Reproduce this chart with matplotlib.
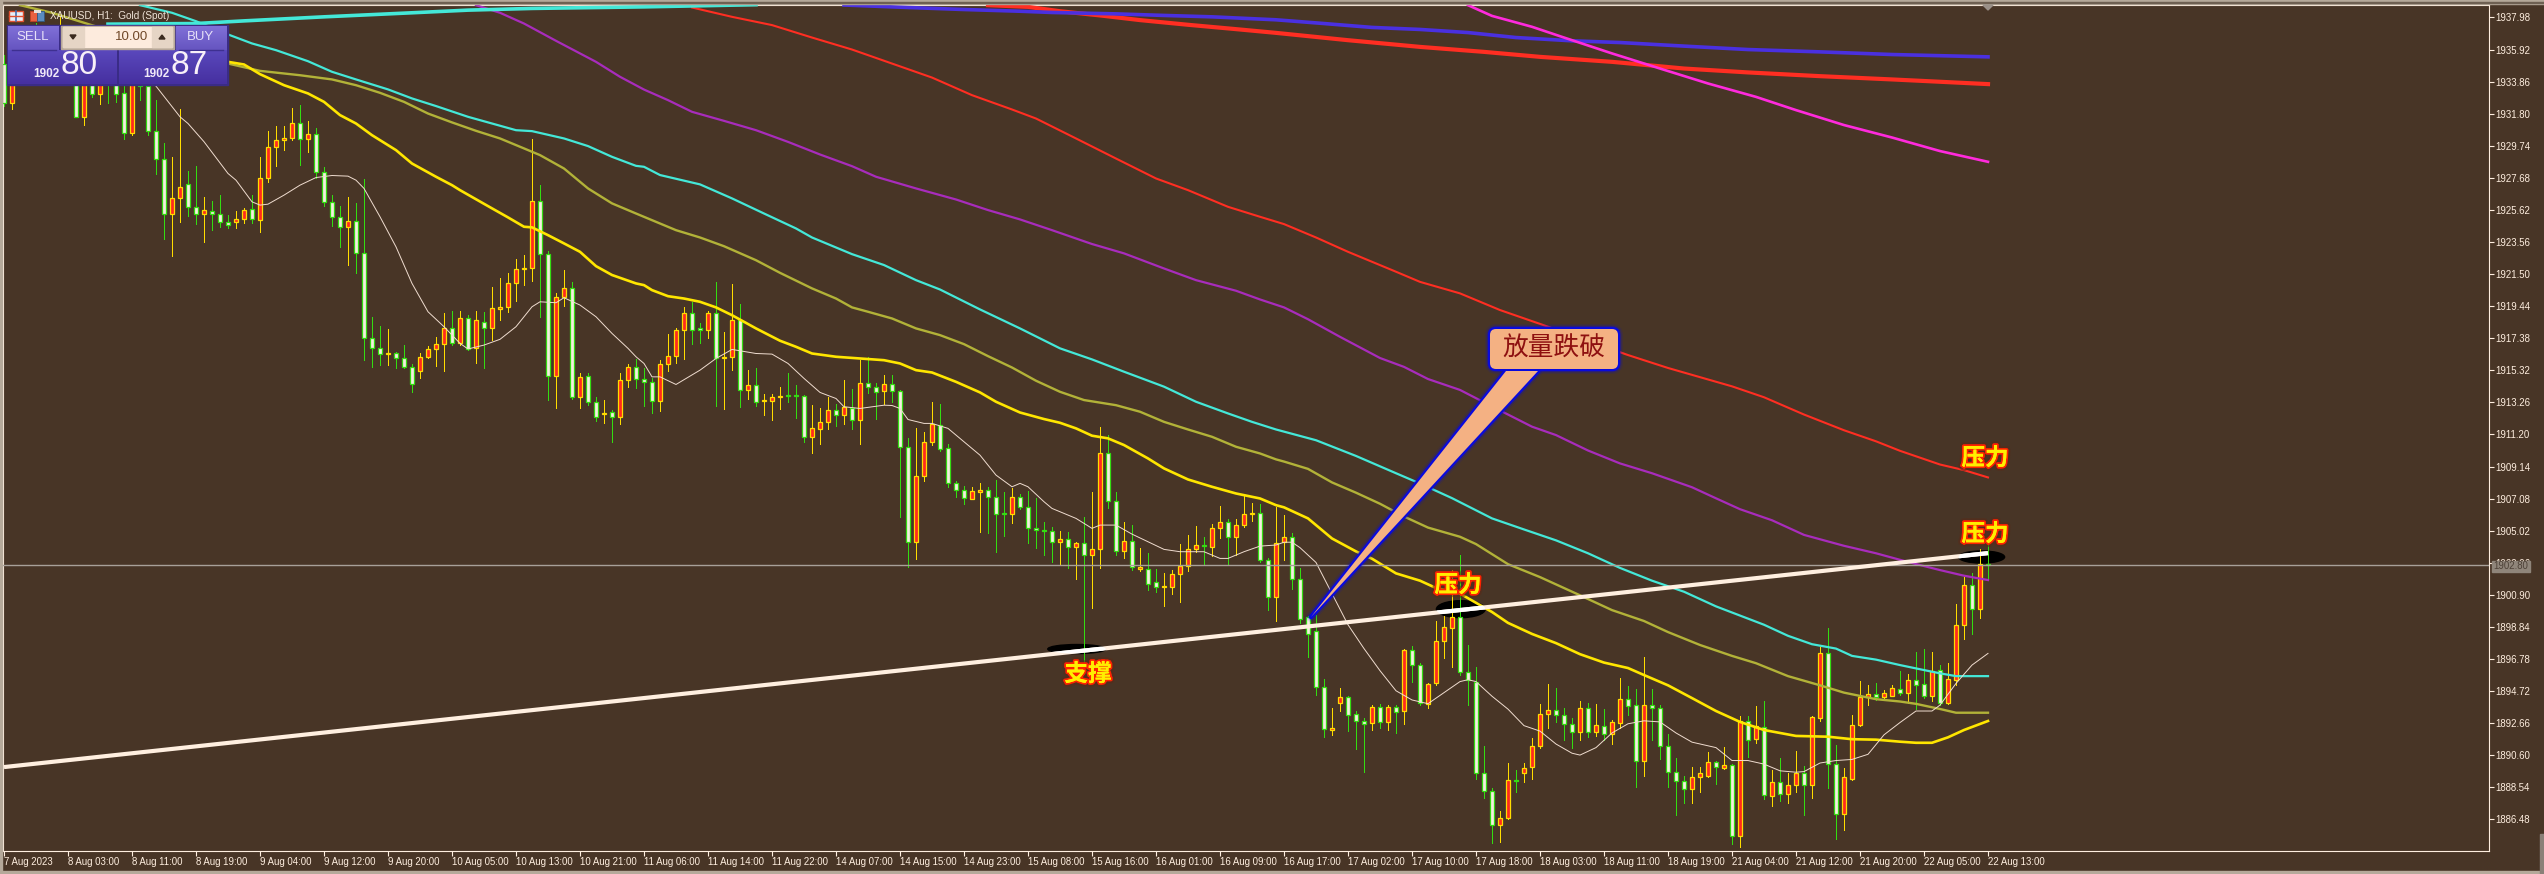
import numpy as np
import matplotlib
matplotlib.use('Agg')
import matplotlib.pyplot as plt
import matplotlib.patheffects as pe
from matplotlib.patches import Ellipse, FancyBboxPatch, Polygon, Rectangle

# XAUUSD H1 candles (first bars sit under the trade panel)
opens = [
    1935.0, 1932.5, 1934.4, 1935.6, 1936.2, 1935.0, 1935.8, 1934.8, 1936.5, 1935.5,
    1931.6, 1934.3, 1933.06, 1934.4, 1934.0, 1933.1, 1930.53, 1934.2, 1933.6, 1930.7,
    1928.86, 1925.39, 1926.36, 1927.26, 1925.82, 1925.39, 1925.57, 1925.33, 1924.82, 1924.86,
    1925.01, 1925.65, 1924.99, 1927.64, 1929.63, 1930.08, 1930.27, 1931.17, 1930.15, 1930.51,
    1928.03, 1926.16, 1925.18, 1924.5, 1924.88, 1922.83, 1917.37, 1916.73, 1916.34, 1916.41,
    1916.13, 1915.51, 1915.29, 1916.19, 1916.66, 1916.98, 1918.01, 1917.05, 1918.7, 1916.73,
    1918.44, 1918.01, 1919.27, 1919.36, 1920.9, 1921.8, 1921.86, 1926.21, 1922.76, 1914.97,
    1920.0, 1920.58, 1913.63, 1914.97, 1913.3, 1912.49, 1912.62, 1912.34, 1914.69, 1915.51,
    1914.73, 1914.58, 1913.36, 1915.7, 1916.27, 1917.88, 1918.97, 1918.03, 1917.94, 1919.01,
    1916.08, 1916.15, 1918.58, 1914.03, 1914.35, 1913.32, 1913.36, 1913.58, 1913.75, 1913.71,
    1913.64, 1911.05, 1911.57, 1911.97, 1912.74, 1912.42, 1912.91, 1912.1, 1914.48, 1914.26,
    1914.0, 1914.41, 1913.96, 1910.37, 1904.27, 1908.51, 1910.69, 1911.82, 1910.3, 1908.06,
    1907.61, 1907.07, 1907.52, 1907.61, 1907.16, 1906.13, 1906.07, 1907.16, 1906.56, 1905.17,
    1905.06, 1904.97, 1904.27, 1904.46, 1903.95, 1904.25, 1903.43, 1903.82, 1909.98, 1906.9,
    1903.69, 1904.38, 1902.58, 1902.58, 1901.74, 1901.42, 1901.42, 1902.21, 1902.77, 1903.82,
    1904.08, 1903.99, 1905.17, 1905.55, 1904.59, 1905.4, 1906.07, 1906.13, 1903.13, 1900.78,
    1904.28, 1904.61, 1901.92, 1899.45, 1898.58, 1894.97, 1892.19, 1893.98, 1894.31, 1893.25,
    1892.83, 1892.67, 1893.68, 1892.74, 1893.68, 1893.44, 1897.33, 1896.39, 1893.91, 1895.21,
    1897.92, 1898.74, 1899.45, 1895.92, 1895.33, 1889.44, 1888.33, 1886.14, 1886.54, 1889.04,
    1889.44, 1889.86, 1891.21, 1893.28, 1893.49, 1893.16, 1892.62, 1892.12, 1893.61, 1892.08,
    1892.5, 1891.98, 1892.69, 1894.2, 1893.8, 1890.21, 1893.8, 1893.61, 1891.21, 1889.51,
    1888.92, 1888.45, 1889.2, 1889.25, 1890.19, 1889.79, 1889.96, 1885.43, 1892.81, 1891.63,
    1892.43, 1887.95, 1888.85, 1888.14, 1888.66, 1889.48, 1888.66, 1892.97, 1897.14, 1890.03,
    1886.85, 1889.08, 1892.57, 1894.31, 1894.55, 1894.31, 1894.43, 1894.86, 1894.62, 1895.45,
    1895.15, 1894.42, 1896.07, 1893.97, 1895.43, 1898.94, 1901.51, 1900.01, 1902.85,
]
highs = [
    1935.6, 1935.0, 1936.2, 1936.4, 1937.6, 1936.2, 1936.3, 1938.0, 1936.9, 1935.9,
    1934.8, 1935.0, 1935.0, 1935.0, 1934.5, 1933.6, 1935.0, 1934.7, 1934.3, 1932.67,
    1929.93, 1928.99, 1932.07, 1928.09, 1928.43, 1926.42, 1926.19, 1926.61, 1925.29, 1925.54,
    1925.72, 1926.57, 1929.03, 1930.68, 1931.0, 1931.04, 1932.18, 1932.35, 1931.32, 1930.85,
    1928.35, 1926.57, 1925.89, 1926.42, 1926.04, 1927.58, 1918.72, 1918.16, 1917.97, 1916.51,
    1916.94, 1915.72, 1916.41, 1916.88, 1917.48, 1918.97, 1919.12, 1919.12, 1918.87, 1919.12,
    1919.04, 1920.64, 1921.22, 1921.58, 1922.44, 1922.72, 1930.15, 1927.19, 1922.98, 1920.3,
    1921.76, 1921.01, 1915.12, 1915.12, 1913.63, 1913.41, 1912.77, 1915.16, 1915.72, 1916.02,
    1915.44, 1914.8, 1915.97, 1917.64, 1918.01, 1919.36, 1919.72, 1918.39, 1919.12, 1921.0,
    1917.79, 1920.85, 1919.57, 1915.33, 1915.5, 1913.83, 1913.83, 1914.26, 1915.12, 1914.37,
    1913.75, 1913.08, 1912.91, 1913.6, 1913.15, 1914.69, 1914.11, 1915.97, 1916.19, 1914.48,
    1915.01, 1915.01, 1914.05, 1910.95, 1911.59, 1911.33, 1913.26, 1913.15, 1910.56, 1908.23,
    1907.88, 1907.8, 1908.06, 1907.8, 1908.27, 1907.52, 1907.73, 1907.37, 1907.56, 1907.09,
    1905.55, 1905.27, 1905.0, 1904.91, 1904.31, 1905.87, 1907.52, 1911.69, 1911.16, 1907.52,
    1905.55, 1905.38, 1903.88, 1903.56, 1902.53, 1902.28, 1902.49, 1904.16, 1904.74, 1905.32,
    1904.59, 1905.45, 1906.6, 1905.74, 1905.74, 1907.24, 1906.82, 1906.73, 1903.24, 1906.56,
    1906.0, 1904.85, 1902.63, 1899.57, 1899.62, 1895.49, 1893.61, 1894.9, 1894.39, 1893.44,
    1892.97, 1893.8, 1893.91, 1893.84, 1893.8, 1897.45, 1897.64, 1896.51, 1895.26, 1899.21,
    1899.57, 1902.51, 1903.46, 1897.68, 1896.27, 1891.21, 1888.5, 1887.01, 1890.07, 1889.67,
    1890.1, 1891.68, 1893.91, 1895.16, 1894.93, 1893.63, 1892.97, 1894.1, 1893.96, 1893.91,
    1893.56, 1892.85, 1895.56, 1895.04, 1894.86, 1896.93, 1894.86, 1893.8, 1891.96, 1890.43,
    1889.27, 1889.86, 1889.84, 1890.8, 1890.26, 1891.13, 1890.03, 1893.09, 1893.09, 1893.75,
    1894.08, 1889.67, 1890.43, 1889.44, 1890.85, 1889.91, 1893.09, 1897.57, 1898.79, 1891.25,
    1889.79, 1893.21, 1895.37, 1895.09, 1895.21, 1894.81, 1895.14, 1895.99, 1895.8, 1897.26,
    1897.42, 1897.25, 1896.39, 1896.54, 1900.31, 1902.02, 1902.28, 1903.82, 1904.52,
]
lows = [
    1932.3, 1932.11, 1934.1, 1934.2, 1934.6, 1934.7, 1934.5, 1934.5, 1935.2, 1931.56,
    1931.07, 1932.88, 1932.41, 1932.5, 1932.56, 1930.19, 1930.4, 1932.67, 1930.4, 1927.92,
    1923.77, 1922.66, 1924.86, 1925.22, 1924.71, 1923.57, 1924.32, 1924.54, 1924.45, 1924.45,
    1924.75, 1924.75, 1924.22, 1927.43, 1928.45, 1929.46, 1930.08, 1928.5, 1929.35, 1927.64,
    1925.89, 1924.6, 1923.25, 1922.08, 1921.54, 1915.98, 1915.55, 1915.66, 1915.66, 1915.44,
    1915.44, 1913.95, 1914.8, 1916.09, 1915.59, 1915.29, 1916.94, 1916.94, 1916.62, 1915.76,
    1915.49, 1917.26, 1918.55, 1919.08, 1919.79, 1920.79, 1921.05, 1918.76, 1913.41, 1912.87,
    1919.45, 1913.45, 1912.87, 1913.09, 1912.06, 1911.95, 1910.7, 1911.87, 1914.27, 1914.16,
    1913.04, 1912.59, 1912.7, 1915.29, 1915.8, 1916.04, 1917.02, 1917.09, 1917.41, 1913.04,
    1912.83, 1915.33, 1912.98, 1913.47, 1913.04, 1912.44, 1912.12, 1912.83, 1913.3, 1912.27,
    1910.69, 1910.02, 1910.58, 1911.54, 1911.76, 1911.87, 1911.52, 1910.58, 1913.88, 1912.19,
    1913.15, 1913.28, 1905.92, 1902.66, 1903.2, 1908.23, 1910.52, 1910.15, 1907.8, 1907.2,
    1906.73, 1907.03, 1904.95, 1904.89, 1903.67, 1904.67, 1905.53, 1906.43, 1904.2, 1903.93,
    1903.46, 1903.03, 1902.88, 1902.64, 1901.91, 1896.39, 1900.07, 1902.64, 1906.45, 1903.46,
    1903.24, 1902.49, 1902.45, 1901.21, 1901.1, 1900.18, 1900.95, 1900.46, 1902.45, 1903.67,
    1902.81, 1903.39, 1904.52, 1902.81, 1903.46, 1905.27, 1905.64, 1903.03, 1899.92, 1899.24,
    1903.15, 1901.29, 1899.1, 1896.91, 1894.5, 1891.79, 1891.91, 1893.44, 1892.15, 1890.97,
    1889.55, 1892.19, 1892.34, 1892.19, 1892.03, 1892.62, 1895.33, 1893.8, 1893.63, 1895.09,
    1896.86, 1896.27, 1895.75, 1893.8, 1889.08, 1887.84, 1884.96, 1885.01, 1886.49, 1888.26,
    1888.85, 1889.08, 1891.09, 1892.38, 1892.74, 1891.56, 1891.09, 1891.6, 1891.79, 1891.86,
    1891.56, 1891.32, 1892.38, 1893.21, 1888.54, 1889.27, 1891.56, 1890.38, 1888.57, 1886.73,
    1887.55, 1887.55, 1888.26, 1889.2, 1888.78, 1889.74, 1884.91, 1884.72, 1890.5, 1891.39,
    1887.79, 1887.32, 1887.67, 1887.55, 1888.26, 1886.73, 1887.86, 1892.78, 1888.5, 1885.24,
    1885.79, 1889.04, 1892.5, 1893.84, 1894.15, 1894.2, 1894.39, 1894.5, 1893.96, 1893.56,
    1894.29, 1894.08, 1893.82, 1893.89, 1895.11, 1898.06, 1898.38, 1899.43, 1901.89,
]
closes = [
    1932.5, 1934.4, 1935.6, 1934.5, 1935.0, 1935.8, 1934.8, 1936.5, 1935.5, 1931.6,
    1934.3, 1933.06, 1934.4, 1934.0, 1933.06, 1930.53, 1934.2, 1933.6, 1930.7, 1928.86,
    1925.39, 1926.36, 1927.11, 1925.82, 1925.33, 1925.59, 1925.33, 1924.82, 1924.67, 1925.01,
    1925.59, 1925.05, 1927.64, 1929.63, 1930.08, 1930.27, 1931.17, 1930.15, 1930.51, 1928.03,
    1926.16, 1925.18, 1924.5, 1924.88, 1922.83, 1917.37, 1916.73, 1916.34, 1916.41, 1916.13,
    1915.55, 1914.42, 1916.19, 1916.66, 1916.98, 1918.01, 1917.05, 1918.65, 1916.7, 1918.55,
    1918.01, 1919.29, 1919.38, 1920.9, 1921.8, 1921.86, 1926.21, 1922.76, 1914.97, 1920.0,
    1920.58, 1913.63, 1914.91, 1913.3, 1912.34, 1912.55, 1912.34, 1914.69, 1915.51, 1914.74,
    1914.58, 1913.36, 1915.7, 1916.27, 1917.88, 1918.97, 1917.94, 1917.94, 1919.01, 1916.08,
    1916.17, 1918.58, 1914.03, 1914.35, 1913.26, 1913.41, 1913.62, 1913.66, 1913.64, 1913.64,
    1911.05, 1911.59, 1911.97, 1912.74, 1912.42, 1912.94, 1912.1, 1914.48, 1914.26, 1913.94,
    1914.41, 1913.96, 1910.37, 1904.27, 1908.51, 1910.69, 1911.87, 1910.28, 1908.06, 1907.61,
    1907.09, 1907.54, 1907.61, 1907.16, 1906.11, 1906.07, 1907.16, 1906.56, 1905.17, 1905.04,
    1904.97, 1904.27, 1904.46, 1903.95, 1904.2, 1903.43, 1903.82, 1909.98, 1906.9, 1903.69,
    1904.38, 1902.66, 1902.66, 1901.57, 1901.42, 1901.46, 1902.21, 1902.73, 1903.82, 1904.08,
    1904.01, 1905.17, 1905.55, 1904.59, 1905.4, 1906.07, 1906.13, 1903.13, 1900.78, 1904.25,
    1904.63, 1901.92, 1899.38, 1898.39, 1894.97, 1892.26, 1892.38, 1894.31, 1893.21, 1892.78,
    1892.62, 1893.68, 1892.74, 1893.68, 1893.4, 1897.33, 1896.39, 1893.98, 1895.16, 1897.92,
    1898.81, 1899.45, 1895.96, 1895.4, 1889.44, 1888.33, 1886.14, 1886.54, 1889.04, 1888.94,
    1889.79, 1891.21, 1893.28, 1893.51, 1893.16, 1892.62, 1892.12, 1893.61, 1892.08, 1892.57,
    1891.98, 1892.74, 1894.2, 1893.75, 1890.21, 1893.8, 1893.61, 1891.21, 1889.51, 1888.92,
    1888.45, 1889.2, 1889.48, 1890.19, 1889.84, 1889.96, 1885.43, 1892.78, 1891.56, 1892.5,
    1888.02, 1888.85, 1888.14, 1888.66, 1889.44, 1888.68, 1893.04, 1897.14, 1890.03, 1886.85,
    1889.2, 1892.57, 1894.31, 1894.55, 1894.31, 1894.62, 1894.9, 1894.62, 1895.45, 1895.09,
    1894.42, 1896.03, 1893.97, 1895.47, 1898.94, 1901.51, 1900.01, 1902.85, 1902.8,
]

# moving averages as (bar number, price)
ma_thin = [
    (14, 1936.0), (19, 1933.57), (22, 1931.6), (23, 1931.17), (25, 1930.0), (28, 1927.96), (29, 1927.53),
    (31, 1926.14), (32, 1925.93), (33, 1925.99), (35, 1926.57), (37, 1927.21), (39, 1927.7), (41, 1927.83),
    (43, 1927.79), (44, 1927.53), (45, 1927.0), (47, 1925.18), (49, 1923.25), (51, 1920.9), (53, 1919.08),
    (55, 1918.12), (57, 1917.05), (58, 1916.69), (60, 1916.94), (62, 1917.31), (64, 1918.12), (66, 1919.4),
    (67, 1919.72), (69, 1919.66), (70, 1919.98), (72, 1919.51), (74, 1918.76), (76, 1917.69), (78, 1916.73),
    (79, 1916.19), (80, 1915.76), (81, 1914.9), (82, 1914.9), (84, 1914.41), (87, 1915.33), (89, 1916.08),
    (91, 1916.66), (94, 1916.4), (96, 1916.36), (98, 1915.76), (100, 1914.8), (102, 1913.9), (104, 1913.51),
    (105, 1912.98), (107, 1912.87), (110, 1913.08), (111, 1913.06), (112, 1912.87), (113, 1912.16),
    (115, 1911.91), (116, 1911.91), (118, 1911.59), (120, 1910.73), (122, 1909.87), (124, 1908.59),
    (126, 1907.84), (127, 1908.06), (128, 1907.84), (130, 1906.88), (131, 1906.45), (134, 1905.81),
    (136, 1905.17), (137, 1905.38), (139, 1905.38), (141, 1904.8), (143, 1904.31), (145, 1903.82),
    (147, 1903.67), (150, 1903.67), (152, 1903.24), (153, 1903.24), (155, 1903.67), (157, 1904.03),
    (159, 1904.1), (160, 1904.28), (161, 1904.28), (162, 1903.93), (164, 1902.98), (166, 1900.98),
    (168, 1898.98), (170, 1897.45), (172, 1896.03), (174, 1894.74), (176, 1894.15), (178, 1893.91),
    (180, 1894.62), (182, 1895.33), (183, 1895.45), (184, 1895.33), (186, 1894.39), (188, 1893.56),
    (190, 1892.5), (192, 1892.15), (194, 1891.32), (196, 1890.73), (197, 1890.61), (199, 1891.09),
    (201, 1892.03), (203, 1892.62), (205, 1892.81), (207, 1892.74), (209, 1892.03), (211, 1891.44),
    (214, 1891.09), (216, 1890.26), (218, 1890.26), (220, 1890.03), (222, 1889.6), (224, 1889.51),
    (225, 1889.55), (227, 1890.1), (229, 1890.26), (231, 1890.33), (233, 1890.66), (235, 1891.91),
    (237, 1892.7), (239, 1893.44), (241, 1893.44), (242, 1893.82), (244, 1895.21), (246, 1896.39), (248, 1897.14),
]
ma_yellow = [
    (20, 1936.3), (28, 1935.13), (30, 1934.96), (32, 1934.34), (35, 1933.63), (38, 1933.1), (40, 1932.56),
    (42, 1931.71), (44, 1931.17), (46, 1930.42), (49, 1929.46), (51, 1928.6), (54, 1927.75), (56, 1927.21),
    (57, 1926.89), (61, 1925.72), (63, 1925.14), (65, 1924.54), (66, 1924.5), (68, 1924.0), (70, 1923.47),
    (72, 1922.93), (74, 1922.01), (76, 1921.44), (79, 1920.9), (80, 1920.79), (81, 1920.47), (83, 1920.08),
    (85, 1919.93), (87, 1919.72), (89, 1919.36), (91, 1918.86), (94, 1918.01), (97, 1917.22), (99, 1916.83),
    (101, 1916.4), (104, 1916.19), (107, 1916.08), (110, 1915.97), (112, 1915.76), (114, 1915.33),
    (116, 1915.18), (119, 1914.58), (122, 1913.9), (124, 1913.3), (127, 1912.61), (130, 1912.19),
    (132, 1911.95), (134, 1911.59), (136, 1911.12), (138, 1910.95), (140, 1910.52), (143, 1909.66),
    (145, 1909.02), (148, 1908.31), (151, 1907.84), (154, 1907.41), (157, 1907.09), (159, 1906.66),
    (160, 1906.52), (163, 1905.81), (166, 1904.52), (169, 1903.69), (171, 1903.22), (174, 1902.28),
    (177, 1901.81), (179, 1901.34), (182, 1900.98), (184, 1900.39), (186, 1899.8), (188, 1899.1),
    (191, 1898.39), (194, 1897.8), (197, 1897.09), (200, 1896.55), (203, 1896.2), (205, 1895.75),
    (208, 1895.09), (211, 1894.27), (214, 1893.44), (217, 1892.74), (220, 1892.22), (224, 1891.84),
    (228, 1891.79), (231, 1891.63), (234, 1891.6), (237, 1891.47), (239, 1891.4), (241, 1891.4),
    (243, 1891.75), (245, 1892.22), (248, 1892.8),
]
ma_olive = [
    (2, 1938.77), (6, 1938.28), (11, 1937.48), (28, 1935.02), (32, 1934.55), (37, 1934.27), (41, 1934.0),
    (44, 1933.63), (47, 1933.14), (50, 1932.56), (53, 1931.81), (56, 1931.24), (59, 1930.7), (62, 1930.21),
    (65, 1929.57), (67, 1929.14), (70, 1928.28), (73, 1927.0), (76, 1926.04), (79, 1925.39), (84, 1924.32),
    (87, 1923.85), (90, 1923.29), (94, 1922.39), (97, 1921.58), (101, 1920.58), (104, 1919.93), (106, 1919.36),
    (108, 1919.08), (111, 1918.65), (114, 1918.01), (117, 1917.58), (120, 1917.0), (123, 1916.23),
    (126, 1915.5), (129, 1914.65), (132, 1913.94), (135, 1913.41), (139, 1913.08), (142, 1912.66),
    (145, 1912.01), (148, 1911.52), (151, 1911.05), (154, 1910.41), (157, 1909.98), (159, 1909.6),
    (160, 1909.46), (163, 1908.99), (166, 1908.12), (169, 1907.46), (172, 1906.75), (175, 1905.93),
    (178, 1905.22), (182, 1904.63), (184, 1904.16), (188, 1902.87), (192, 1902.04), (197, 1900.87),
    (201, 1899.92), (205, 1899.22), (208, 1898.51), (212, 1897.68), (216, 1896.98), (219, 1896.51),
    (223, 1895.68), (227, 1895.09), (230, 1894.62), (234, 1894.2), (237, 1894.05), (239, 1893.9),
    (242, 1893.57), (244, 1893.33), (248, 1893.33),
]
ma_cyan = [
    (17, 1938.77), (21, 1938.28), (24, 1937.74), (28, 1936.89), (31, 1936.31), (34, 1935.88), (38, 1935.17),
    (41, 1934.49), (44, 1934.0), (48, 1933.36), (51, 1932.78), (54, 1932.29), (58, 1931.6), (61, 1931.17),
    (64, 1930.74), (66, 1930.68), (70, 1930.21), (73, 1929.72), (76, 1929.03), (79, 1928.45), (80, 1928.39),
    (82, 1927.86), (87, 1927.26), (91, 1926.36), (95, 1925.39), (99, 1924.43), (101, 1923.85), (106, 1922.78),
    (110, 1922.08), (114, 1921.11), (117, 1920.51), (122, 1919.23), (127, 1918.01), (132, 1916.73),
    (136, 1916.02), (140, 1915.23), (145, 1914.27), (149, 1913.3), (153, 1912.55), (156, 1912.01),
    (159, 1911.52), (164, 1910.83), (169, 1909.82), (174, 1908.71), (177, 1908.05), (181, 1907.11),
    (186, 1905.81), (190, 1905.1), (194, 1904.4), (198, 1903.57), (202, 1902.63), (206, 1901.81),
    (210, 1901.1), (214, 1900.16), (220, 1898.98), (223, 1898.27), (226, 1897.73), (229, 1897.45),
    (231, 1896.98), (234, 1896.74), (237, 1896.39), (240, 1896.07), (242, 1895.86), (244, 1895.68), (248, 1895.68),
]
ma_cyan_wide = [
    (13, 1937.55), (24, 1937.59), (30, 1937.76), (40, 1938.02), (51, 1938.28), (58, 1938.45), (66, 1938.56),
    (80, 1938.66), (94, 1938.8),
]
ma_purple = [
    (59, 1938.77), (62, 1938.28), (65, 1937.59), (69, 1936.48), (74, 1935.13), (77, 1934.17), (80, 1933.35),
    (83, 1932.67), (86, 1931.92), (90, 1931.34), (94, 1930.74), (98, 1929.99), (102, 1929.18), (106, 1928.43),
    (109, 1927.75), (114, 1927.0), (119, 1926.29), (123, 1925.61), (127, 1925.01), (131, 1924.32),
    (136, 1923.43), (140, 1922.83), (145, 1921.86), (149, 1921.11), (154, 1920.43), (157, 1919.87),
    (160, 1919.36), (163, 1918.6), (167, 1917.47), (172, 1916.11), (175, 1915.54), (178, 1914.76),
    (182, 1914.06), (186, 1913.0), (191, 1911.7), (194, 1911.16), (198, 1910.17), (202, 1909.34),
    (206, 1908.71), (211, 1907.81), (214, 1907.1), (217, 1906.4), (221, 1905.69), (225, 1904.75),
    (230, 1904.05), (234, 1903.57), (237, 1903.15), (239, 1902.88), (242, 1902.49), (245, 1902.13), (248, 1901.85),
]
ma_red = [
    (86, 1938.62), (91, 1938.02), (96, 1937.49), (101, 1936.69), (106, 1935.92), (111, 1935.02), (116, 1934.12),
    (121, 1932.99), (126, 1932.07), (129, 1931.49), (134, 1930.21), (139, 1928.92), (144, 1927.64),
    (148, 1926.89), (153, 1925.82), (157, 1925.18), (160, 1924.71), (164, 1923.85), (168, 1922.93),
    (174, 1921.65), (177, 1921.0), (182, 1920.26), (187, 1919.19), (192, 1918.3), (203, 1916.3),
    (208, 1915.47), (212, 1914.88), (216, 1914.29), (220, 1913.59), (225, 1912.48), (230, 1911.47),
    (234, 1910.76), (237, 1910.15), (242, 1909.27), (245, 1908.91), (248, 1908.44),
]
ma_red_wide = [
    (123, 1938.77), (128, 1938.66), (132, 1938.38), (137, 1938.11), (142, 1937.81), (148, 1937.51), (154, 1937.23),
    (159, 1936.99), (168, 1936.52), (177, 1936.09), (185, 1935.77), (192, 1935.45), (201, 1935.13),
    (210, 1934.7), (218, 1934.45), (227, 1934.21), (236, 1934.0), (248, 1933.7),
]
ma_blue = [
    (105, 1938.78), (113, 1938.62), (120, 1938.49), (127, 1938.38), (131, 1938.3), (139, 1938.21), (145, 1938.11),
    (151, 1938.02), (159, 1937.83), (165, 1937.59), (171, 1937.34), (177, 1937.21), (183, 1937.01),
    (189, 1936.69), (196, 1936.48), (202, 1936.37), (210, 1936.14), (218, 1935.92), (227, 1935.77),
    (236, 1935.6), (248, 1935.45),
]
ma_magenta = [
    (183, 1938.77), (186, 1938.08), (191, 1937.38), (195, 1936.69), (201, 1935.67), (207, 1934.7), (213, 1933.74),
    (219, 1932.88), (224, 1932.03), (230, 1931.07), (236, 1930.27), (242, 1929.4), (248, 1928.71),
]
trend_line = [(0, 1889.84), (248, 1903.58)]
current_price = 1902.80

y_ticks = [1937.98 - 2.06 * k for k in range(26)]
x_labels = [
    '7 Aug 2023', '8 Aug 03:00', '8 Aug 11:00', '8 Aug 19:00', '9 Aug 04:00', '9 Aug 12:00', '9 Aug 20:00',
    '10 Aug 05:00', '10 Aug 13:00', '10 Aug 21:00', '11 Aug 06:00', '11 Aug 14:00', '11 Aug 22:00',
    '14 Aug 07:00', '14 Aug 15:00', '14 Aug 23:00', '15 Aug 08:00', '15 Aug 16:00', '16 Aug 01:00',
    '16 Aug 09:00', '16 Aug 17:00', '17 Aug 02:00', '17 Aug 10:00', '17 Aug 18:00', '18 Aug 03:00',
    '18 Aug 11:00', '18 Aug 19:00', '21 Aug 04:00', '21 Aug 12:00', '21 Aug 20:00', '22 Aug 05:00', '22 Aug 13:00',
]

BG = '#483526'
FG = '#FFEFE0'
W, H = 2544, 874
CJK = ['Noto Sans CJK SC', 'DejaVu Sans']
plt.rcParams['font.family'] = ['Liberation Sans', 'DejaVu Sans']

fig = plt.figure(figsize=(W / 100, H / 100), dpi=100, facecolor=BG)
ax = fig.add_axes([3 / W, 1 - 851 / H, (2489 - 3) / W, (851 - 5) / H], facecolor=BG)
ax.set_xlim(-0.125, 310.625)
ax.set_ylim(1884.45, 1938.78)

o = np.array(opens)
h = np.array(highs)
l = np.array(lows)
c = np.array(closes)
n = np.arange(len(o))
up = c >= o
up[-1] = False

ax.vlines(n[up], l[up], h[up], color='#FFDD00', lw=0.72, zorder=3, antialiased=False)
ax.vlines(n[~up], l[~up], h[~up], color='#33DD11', lw=0.72, zorder=3, antialiased=False)
ax.bar(n[up], (c - o)[up], bottom=o[up], width=0.5, color='#FF2A1E', edgecolor='#FFDD00', lw=0.9, zorder=3)
ax.bar(n[~up], (c - o)[~up], bottom=o[~up], width=0.5, color='#F5EFE0', edgecolor='#33DD11', lw=0.9, zorder=3)


def draw_ma(points, color, lw):
    xs, ys = zip(*points)
    ax.plot(xs, ys, color=color, lw=lw, zorder=4, solid_joinstyle='round')


draw_ma(ma_red_wide, '#FF2E22', 3.0)
draw_ma(ma_blue, '#4A30E0', 2.6)
draw_ma(ma_magenta, '#FF2ADD', 1.9)
draw_ma(ma_red, '#FF2E22', 1.5)
draw_ma(ma_purple, '#A82CBC', 1.6)
draw_ma(ma_cyan_wide, '#44E8D8', 2.6)
draw_ma(ma_cyan, '#44E8D8', 1.6)
draw_ma(ma_olive, '#B2B238', 1.7)
draw_ma(ma_yellow, '#FFE600', 1.9)
draw_ma(ma_thin, '#F0DDD0', 0.7)

ax.axhline(current_price, color='#A8A098', lw=1.0, zorder=4)

# black marks on the trend line, the line turns pure white inside them
marks = [(134.1, 1897.42, 7.25, 0.58), (182.1, 1899.98, 6.1, 1.09), (247.2, 1903.33, 5.75, 0.78)]
tx, ty = zip(*trend_line)
ax.plot(tx, ty, color=FG, lw=3.0, zorder=5, solid_capstyle='butt')
for mx, my, mw, mh in marks:
    el = Ellipse((mx, my), mw, mh, color='black', zorder=2.5)
    ax.add_patch(el)
    el2 = Ellipse((mx, my), mw, mh, facecolor='none', edgecolor='none', zorder=6)
    ax.add_patch(el2)
    line, = ax.plot(tx, ty, color='white', lw=3.0, zorder=6, solid_capstyle='butt')
    line.set_clip_path(el2)

for side in ax.spines.values():
    side.set_color(FG)
    side.set_linewidth(0.8)
ax.yaxis.tick_right()
ax.set_yticks(y_ticks)
ax.set_yticklabels([f'{v:.2f}' for v in y_ticks], fontsize=6.9, color=FG)
ax.set_xticks(n[::8])
ax.set_xticklabels(x_labels, fontsize=6.9, color=FG, ha='left')
ax.tick_params(axis='y', length=3.6, width=0.8, color=FG, pad=1)
ax.tick_params(axis='x', length=3.6, width=0.8, color=FG, pad=1)

# overlay in image pixels for the window frame, trade panel, callout and labels
ov = fig.add_axes([0, 0, 1, 1], facecolor='none', zorder=10)
ov.axis('off')


def grad(x0, y0, x1, y1, top, bottom):
    t = matplotlib.colors.to_rgb(top)
    b = matplotlib.colors.to_rgb(bottom)
    img = np.linspace(t, b, 32).reshape(32, 1, 3)
    ov.imshow(img, extent=(x0, x1, y1, y0), aspect='auto', zorder=11, interpolation='bilinear')


ov.add_patch(Rectangle((0, 0), W, 4, color='#B5A99A', zorder=10))
ov.add_patch(Rectangle((0, 1.5), W, 1.5, color='#6E6052', zorder=10))
ov.add_patch(Rectangle((0, 0), 2, H, color='#B5A99A', zorder=10))
ov.add_patch(Rectangle((0, 871), W, 3, color='#B5A99A', zorder=10))
ov.add_patch(Rectangle((2540, 834), 4, 40, color='#8A8078', zorder=10))
ov.fill([1983, 1993, 1988], [5, 5, 10], color='#9A9088', zorder=10)

# price tag on the axis
ov.add_patch(Rectangle((2492, 561), 38, 10.5, color='#8F857A', zorder=10))
ov.text(2511, 566, f'{current_price:.2f}', color='#4E4238', fontsize=6.9, ha='center', va='center', zorder=11)

# symbol header
ov.add_patch(Rectangle((9, 11), 14, 10, facecolor='#E8F0F8', edgecolor='#E05030', lw=1, zorder=11))
ov.plot([16, 16], [11, 21], color='#4070B0', lw=1.2, zorder=12)
ov.plot([9, 23], [16, 16], color='#E05030', lw=1, zorder=12)
ov.add_patch(Rectangle((30, 11), 7, 10, facecolor='#E86040', edgecolor='#C04020', lw=0.6, zorder=11))
ov.add_patch(Rectangle((37, 11), 7, 10, facecolor='#5A8CC0', edgecolor='#305880', lw=0.6, zorder=11))
ov.add_patch(Rectangle((34, 10), 7, 3, facecolor='#E8E0D8', zorder=12))
ov.text(50, 16, 'XAUUSD, H1:  Gold (Spot)', color='#F0E4D8', fontsize=7.2, va='center', zorder=12)

# trade panel
ov.add_patch(Rectangle((7, 25), 221, 60, color='#3A2C86', zorder=10.5))
grad(8, 26, 59, 50, '#8070D8', '#6655C0')
grad(176, 26, 227, 50, '#8070D8', '#6655C0')
grad(8, 50, 117, 84, '#5A48BC', '#4630A0')
grad(119, 50, 227, 84, '#5A48BC', '#4630A0')
ov.add_patch(Rectangle((61, 26), 113, 23, color='#B8A898', zorder=12))
ov.add_patch(Rectangle((63, 27), 109, 20, color='#FDEBDD', zorder=12))
ov.add_patch(Rectangle((63, 27), 21, 20, color='#E6D5C5', zorder=12.5))
ov.add_patch(Rectangle((152, 27), 20, 20, color='#E6D5C5', zorder=12.5))
ov.fill([70, 76, 73], [35, 35, 39], color='#3A2A1E', zorder=13)
ov.fill([159, 165, 162], [39, 39, 35], color='#3A2A1E', zorder=13)
ov.plot([12, 56], [50, 50], color='#3E3090', lw=1, zorder=13)
ov.plot([179, 223], [50, 50], color='#3E3090', lw=1, zorder=13)
ov.text(33, 37.5, 'SELL', color='#E6E0F8', fontsize=9.5, ha='center', va='center', zorder=13)
ov.text(200, 37.5, 'BUY', color='#E6E0F8', fontsize=9.5, ha='center', va='center', zorder=13)
ov.text(148, 37, '10.00', color='#704828', fontsize=9.5, ha='right', va='center', zorder=13)
ov.text(59, 74, '1902', color='#F0E8F8', fontsize=8.5, fontweight='bold', ha='right', va='center', zorder=13)
ov.text(169, 74, '1902', color='#F0E8F8', fontsize=8.5, fontweight='bold', ha='right', va='center', zorder=13)
ov.text(61, 66, '80', color='#F8F0F8', fontsize=24, ha='left', va='center', zorder=13)
ov.text(171, 66, '87', color='#F8F0F8', fontsize=24, ha='left', va='center', zorder=13)

# callout
tail = [(1506, 371), (1538, 371), (1311, 617)]
for width, alpha in [(10, 0.10), (7, 0.22), (4.5, 1.0)]:
    ov.add_patch(Polygon(tail, closed=True, facecolor='none', edgecolor='#0A0ADC', lw=width * 0.72,
                         alpha=alpha, zorder=12, joinstyle='round'))
    ov.add_patch(FancyBboxPatch((1490, 329), 128, 40, boxstyle='round,pad=0,rounding_size=6', facecolor='none',
                                edgecolor='#0A0ADC', lw=width * 0.72, alpha=alpha, zorder=12))
ov.add_patch(FancyBboxPatch((1490, 329), 128, 40, boxstyle='round,pad=0,rounding_size=6', facecolor='#F4B183',
                            edgecolor='none', zorder=13))
ov.add_patch(Polygon(tail, closed=True, facecolor='#F4B183', edgecolor='none', zorder=13))
ov.text(1554, 349, '放量跌破', family=CJK, color='#8E1010', fontsize=18.5, ha='center', va='center', zorder=14)

glow = [pe.withStroke(linewidth=5.5, foreground='#5A2A18', alpha=0.55),
        pe.withStroke(linewidth=2.6, foreground='#FF2200'), pe.Normal()]
for lx, ly, word in [(1985, 458, '压力'), (1985, 534, '压力'), (1458, 585, '压力'), (1088, 674, '支撑')]:
    ov.text(lx, ly, word, family=CJK, color='#FFEE00', fontsize=17, fontweight='bold', ha='center', va='center',
            path_effects=glow, zorder=14)

ov.set_xlim(0, W)
ov.set_ylim(H, 0)

fig.savefig('out.png', dpi=100, facecolor=BG)
